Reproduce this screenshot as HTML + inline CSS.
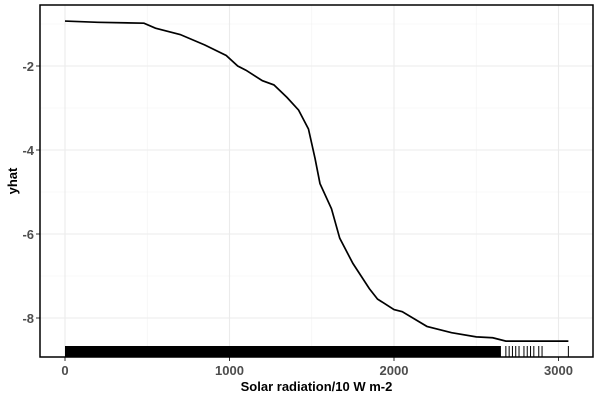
<!DOCTYPE html>
<html><head><meta charset="utf-8"><style>
body{margin:0;background:#fff;}
svg{display:block;font-family:"Liberation Sans",Arial,sans-serif;}
</style></head><body>
<svg id="chart" width="600" height="400"></svg>
<script>
const xTicks=[0,1000,2000,3000];
const yTicks=[-2,-4,-6,-8];
const xs=[0,200,480,550,700,850,980,1050,1100,1200,1270,1350,1420,1480,1520,1550,1620,1670,1750,1850,1900,2000,2050,2200,2350,2500,2600,2680,3060];
const ys=[-0.93,-0.96,-0.98,-1.1,-1.25,-1.5,-1.75,-2.0,-2.1,-2.35,-2.45,-2.75,-3.05,-3.5,-4.2,-4.8,-5.4,-6.1,-6.7,-7.3,-7.55,-7.8,-7.85,-8.2,-8.35,-8.45,-8.47,-8.55,-8.55];
const rugDenseEnd=2650;
const rugSparse=[2680,2700,2720,2740,2760,2790,2810,2830,2850,2880,2900,3060];
const NS="http://www.w3.org/2000/svg";
const svg=document.getElementById('chart');
const L=40,R=593,T=5,B=357;
const sx=v=>65+v*0.1645;
const sy=v=>66+(-2-v)*42;
function el(t,a){const e=document.createElementNS(NS,t);for(const k in a)e.setAttribute(k,a[k]);svg.appendChild(e);return e;}
const bg=el('rect',{x:L,y:T,width:R-L,height:B-T,fill:'#fff'});


[500,1500,2500].forEach(v=>{const g=el('line',{x1:sx(v),x2:sx(v),y1:T,y2:B,stroke:'#f2f2f2','stroke-width':0.6});});
[-1,-3,-5,-7].forEach(v=>{const g=el('line',{x1:L,x2:R,y1:sy(v),y2:sy(v),stroke:'#f2f2f2','stroke-width':0.6});});
xTicks.forEach(v=>{
const g=el('line',{x1:sx(v),x2:sx(v),y1:T,y2:B,stroke:'#ebebeb','stroke-width':1.1});


const tk=el('line',{x1:sx(v),x2:sx(v),y1:B,y2:B+4,stroke:'#333'});


const t=el('text',{x:sx(v),y:B+18,'text-anchor':'middle','font-size':13,'font-weight':'bold',fill:'#4d4d4d'});t.textContent=v;


});
yTicks.forEach(v=>{
const g=el('line',{x1:L,x2:R,y1:sy(v),y2:sy(v),stroke:'#ebebeb','stroke-width':1.1});


const tk=el('line',{x1:L-4,x2:L,y1:sy(v),y2:sy(v),stroke:'#333'});


const t=el('text',{x:L-6,y:sy(v)+5,'text-anchor':'end','font-size':13,'font-weight':'bold',fill:'#4d4d4d'});t.textContent=v;


});
const rug=el('rect',{x:sx(0),y:346,width:sx(rugDenseEnd)-sx(0),height:B-346,fill:'#000'});


rugSparse.forEach(v=>{const r=el('line',{x1:sx(v),x2:sx(v),y1:346,y2:B,stroke:'#000','stroke-width':1});});
const line=el('polyline',{points:xs.map((x,i)=>sx(x)+','+sy(ys[i])).join(' '),fill:'none',stroke:'#000','stroke-width':1.7});


const fr=el('rect',{x:L,y:T,width:R-L,height:B-T,fill:'none',stroke:'#000','stroke-width':1.5});


const xt=el('text',{x:(L+R)/2,y:391,'text-anchor':'middle','font-size':13,'font-weight':'bold',fill:'#000'});xt.textContent='Solar radiation/10 W m-2';


const yt=el('text',{x:0,y:0,'text-anchor':'middle','font-size':13,'font-weight':'bold',fill:'#000',transform:'translate(17,'+((T+B)/2)+') rotate(-90)'});yt.textContent='yhat';


</script>
</body></html>
